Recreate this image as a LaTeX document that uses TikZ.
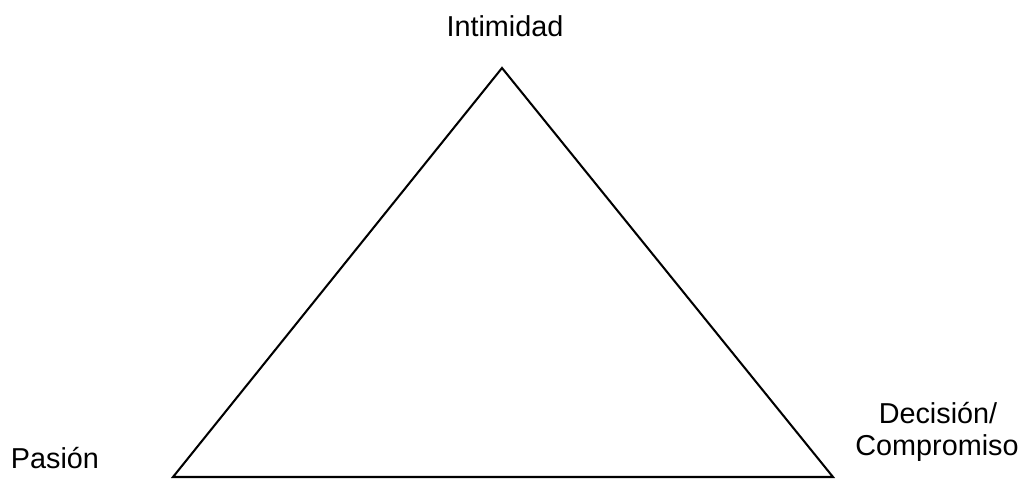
\documentclass[tikz,border=0pt]{standalone}
\usepackage{fontspec}
\setmainfont{Liberation Sans}
\begin{document}
\begin{tikzpicture}[x=0.4167pt,y=-0.4167pt,every node/.style={inner sep=0pt,font=\fontsize{12pt}{13.8pt}\selectfont}]
\tikzstyle{side}=[draw,line width=0.85pt,line join=miter]
\useasboundingbox (0,0) rectangle (1022,481);
\coordinate (intim) at (502,68);
\coordinate (pas) at (173,477);
\coordinate (dec) at (833,477);
\path[side] (intim)--(pas)--(dec)--cycle;

\node[anchor=base](lintim) at (505,37){Intimidad};
\node[anchor=base](lpas) at (55,469){Pasión};
\node[anchor=base](ldec) at (938,424){Decisión/};
\node[anchor=base](lcomp) at (937,456){Compromiso};
\end{tikzpicture}
\end{document}
